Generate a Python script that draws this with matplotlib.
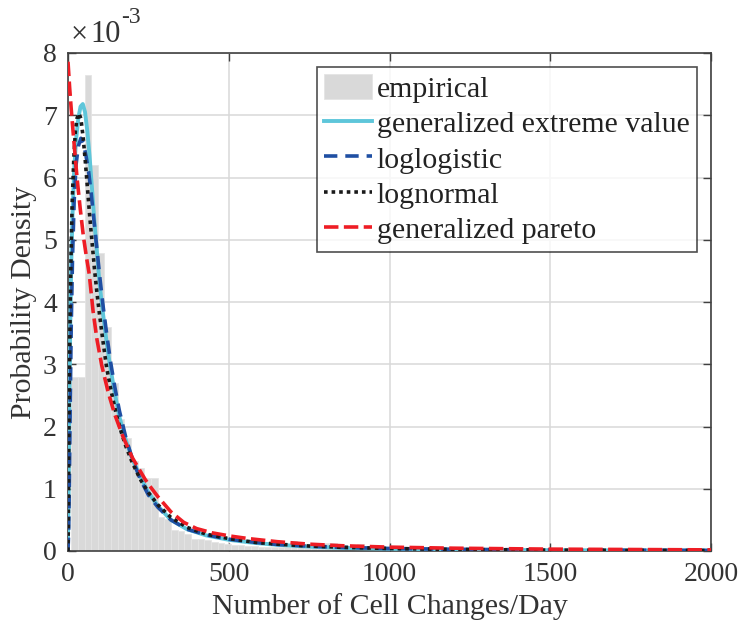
import numpy as np
import matplotlib
matplotlib.use("Agg")
import matplotlib.pyplot as plt

# ===== DATA (densities in units of 1e-3) =====

# histogram of observed cell changes per day
bin_start = 10.0
bin_width = 20.7
hist_heights = [2.8, 2.8, 7.65, 6.2, 4.79, 3.6, 2.7, 2.12, 1.82, 1.45, 1.34, 1.18,
                1.18, 0.54, 0.52, 0.34, 0.32, 0.27, 0.2, 0.19, 0.18, 0.14, 0.13, 0.12,
                0.1, 0.09, 0.08, 0.08, 0.07, 0.07, 0.06, 0.06, 0.06, 0.16, 0.06, 0.05,
                0.05, 0.05, 0.13, 0.13, 0.05, 0.05, 0.04, 0.12, 0.04, 0.04, 0.04, 0.03,
                0.03, 0.03, 0.03, 0.03, 0.03, 0.02, 0.02, 0.02, 0.02, 0.02, 0.02, 0.02,
                0.02, 0.02, 0.02, 0.02, 0.02, 0.01, 0.01, 0.01, 0.01, 0.01, 0.01, 0.01,
                0.01, 0.01, 0.01, 0.01, 0.01, 0.01, 0.01, 0.01, 0.01, 0.01, 0.01, 0.01,
                0.01, 0.01, 0.01, 0.01, 0.01, 0.01, 0.01, 0.01, 0.01, 0.01, 0.01]

# generalized extreme value fit
gev_x = [0, 2, 4, 7, 10, 14, 19, 25, 32, 39, 46, 53, 60, 67, 75, 82, 90, 98, 108, 119,
         130, 145, 160, 180, 200, 220, 250, 280, 320, 370, 430, 500, 580, 650, 750,
         850, 1000, 1200, 1500, 2000]
gev_y = [0.2, 0.9, 2.2, 3.6, 4.6, 5.4, 6.1, 6.6, 6.95, 7.14, 7.18, 7.05, 6.75, 6.35,
         5.8, 5.3, 4.8, 4.3, 3.85, 3.4, 3.0, 2.55, 2.15, 1.78, 1.48, 1.25, 0.94, 0.72,
         0.5, 0.35, 0.25, 0.18, 0.13, 0.1, 0.07, 0.05, 0.035, 0.022, 0.013, 0.007]

# loglogistic fit
llog_x = [0, 2, 4, 7, 10, 14, 19, 25, 32, 40, 48, 56, 64, 72, 80, 90, 100, 110, 120,
          132, 145, 160, 180, 200, 225, 250, 280, 320, 370, 430, 500, 580, 650, 750,
          850, 1000, 1200, 1500, 2000]
llog_y = [0.0, 0.3, 1.0, 2.4, 3.6, 4.7, 5.6, 6.2, 6.5, 6.63, 6.55, 6.35, 6.1, 5.75,
          5.35, 4.85, 4.35, 3.9, 3.5, 3.05, 2.65, 2.25, 1.82, 1.48, 1.15, 0.9, 0.7,
          0.5, 0.35, 0.26, 0.19, 0.14, 0.105, 0.078, 0.058, 0.04, 0.027, 0.016, 0.009]

# lognormal fit
lnorm_x = [0, 1, 2, 4, 7, 10, 13, 18, 23, 28, 34, 40, 47, 54, 61, 68, 75, 82, 90, 98,
           108, 120, 135, 150, 165, 180, 200, 225, 250, 280, 320, 370, 430, 500, 580,
           650, 750, 850, 1000, 1200, 1500, 2000]
lnorm_y = [0.0, 0.4, 1.3, 2.7, 4.0, 4.9, 5.6, 6.3, 6.75, 6.95, 7.03, 6.95, 6.65, 6.25,
           5.8, 5.35, 4.95, 4.55, 4.15, 3.8, 3.4, 2.95, 2.55, 2.2, 1.92, 1.68, 1.42,
           1.15, 0.94, 0.74, 0.54, 0.38, 0.27, 0.2, 0.14, 0.11, 0.08, 0.06, 0.04,
           0.025, 0.014, 0.007]

# generalized pareto fit
gp_x = [0, 5, 10, 18, 28, 38, 48, 58, 66, 78, 90, 105, 125, 145, 170, 200, 240, 255,
        280, 320, 360, 400, 450, 505, 560, 650, 750, 850, 1000, 1200, 1500, 2000]
gp_y = [7.86, 7.45, 7.1, 6.6, 6.0, 5.5, 5.05, 4.7, 4.45, 3.85, 3.4, 2.98, 2.55, 2.2,
        1.85, 1.5, 1.15, 1.04, 0.87, 0.63, 0.46, 0.36, 0.29, 0.24, 0.2, 0.15, 0.11,
        0.085, 0.062, 0.045, 0.03, 0.018]

labels = ["empirical", "generalized extreme value", "loglogistic", "lognormal",
          "generalized pareto"]

# ===== PLOT =====
plt.rcParams['font.family'] = ['Liberation Serif', 'DejaVu Serif']

text_color = '#333333'
axis_color = '#404040'
fig = plt.figure(figsize=(7.45, 6.31), dpi=100)
ax = fig.add_axes([68/745, 80/631, 643/745, 498/631])

edges = bin_start + bin_width*np.arange(len(hist_heights))
bars = ax.bar(edges, hist_heights, width=bin_width, align='edge', color='#d9d9d9',
              edgecolor='#e4e4e4', linewidth=0.6, zorder=2)

l1, = ax.plot(gev_x, gev_y, color='#5ec6da', lw=2.8, zorder=3)
l2, = ax.plot(llog_x, llog_y, color='#1f4fa3', lw=2.6, dashes=(3.7, 2.2), zorder=4)
l3, = ax.plot(lnorm_x, lnorm_y, color='#1a1a1a', lw=2.6, dashes=(1, 1.1), zorder=5)
l4, = ax.plot(gp_x, gp_y, color='#ee1d25', lw=2.6, dashes=(4.0, 1.5), zorder=6)

ax.set_xlim(0, 2000)
ax.set_ylim(0, 8)
ax.set_xticks([0, 500, 1000, 1500, 2000])
ax.set_yticks(range(0, 9))
ax.grid(True, color='#d8d8d8', lw=1.1, zorder=0)
ax.set_axisbelow(True)
ax.tick_params(direction='in', length=6, width=1, colors=axis_color,
               labelsize=20, top=True, right=True, pad=8, labelcolor=text_color)
for s in ax.spines.values():
    s.set_color(axis_color)
    s.set_linewidth(1.2)

ax.set_xlabel("Number of Cell Changes/Day", fontsize=21.5, color=text_color, labelpad=4)
ax.set_ylabel("Probability Density", fontsize=21.5, color=text_color, labelpad=4)

# exponent label in the style of the original
t0 = ax.text(0.004, 1.008, "\u00d7", transform=ax.transAxes,
             fontsize=22, color=text_color, ha='left', va='bottom')
t1 = ax.annotate("10", xy=(1.0, 0.0), xycoords=t0, xytext=(2, 0),
                 textcoords='offset points', fontsize=22, color=text_color,
                 ha='left', va='bottom')
ax.annotate("-3", xy=(1.0, 0.72), xycoords=t1, fontsize=17, color=text_color,
            ha='left', va='bottom')

leg = ax.legend([bars, l1, l2, l3, l4], labels, loc='upper right',
                bbox_to_anchor=(0.978, 0.972), borderaxespad=0,
                fontsize=21.5, frameon=True, fancybox=False, edgecolor='#222222',
                handlelength=1.6, handleheight=0.9, handletextpad=0.15,
                labelspacing=0.22, borderpad=0.25)
leg.get_frame().set_linewidth(1.2)
for t in leg.get_texts():
    t.set_color('#222222')

fig.savefig("out.png", dpi=100)
